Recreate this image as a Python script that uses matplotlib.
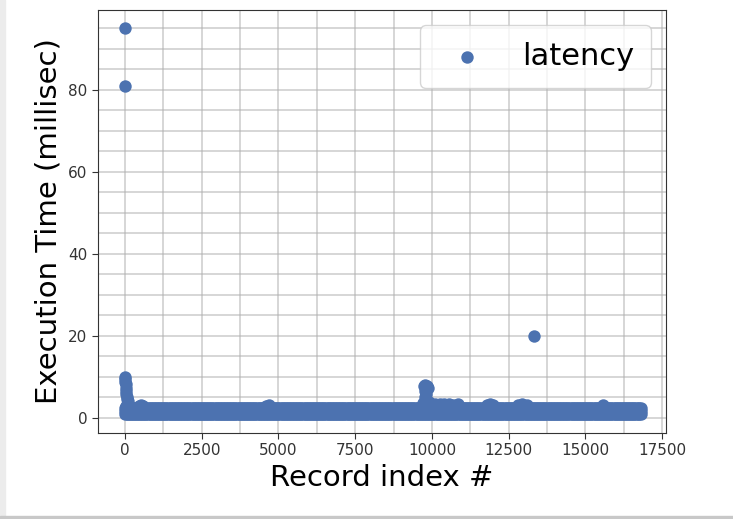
import matplotlib
matplotlib.use("Agg")
import matplotlib.pyplot as plt
from matplotlib.ticker import MultipleLocator
from matplotlib.patches import Rectangle
import numpy as np

# Record indices sampled along the dense base band, and the latency levels it covers
band_idx = np.arange(0, 16801, 50)
band_levels = [0.9, 1.6, 2.3]

# Start-up burst around record 0
head_x = [0, 0, 0, 10, 15, 20, 25, 30, 40, 50, 70, 90, 110, 20, 60]
head_y = [95.0, 81.0, 10.0, 9.4, 8.8, 8.2, 7.4, 6.6, 5.8, 5.2, 4.6, 4.0, 3.4, 3.0, 2.8]

# Burst around record 9800
mid_x = [9750, 9790, 9830, 9860, 9770, 9810, 9760, 9800, 9720, 9700, 9900, 9980]
mid_y = [7.8, 8.0, 7.8, 7.4, 6.6, 5.8, 5.0, 4.2, 3.6, 3.0, 3.8, 3.4]

# Small bumps above the band
bump_x = [460, 520, 580, 4600, 4680, 10100, 10250, 10400, 10550, 10700, 10850,
          11800, 11900, 12000, 12800, 12950, 13100, 15580]
bump_y = [3.0, 3.1, 3.0, 3.0, 3.1, 3.4, 3.3, 3.3, 3.3, 3.2, 3.3,
          3.2, 3.3, 3.2, 3.2, 3.3, 3.2, 3.2]

# Lone outlier
out_x = [13330]
out_y = [20.0]

record_idx = np.concatenate([np.tile(band_idx, len(band_levels)), head_x, mid_x, bump_x, out_x])
latency = np.concatenate([np.repeat(band_levels, len(band_idx)), head_y, mid_y, bump_y, out_y])

fig = plt.figure(figsize=(7.33, 5.19), dpi=100)
ax = fig.add_axes([0.1337, 0.1657, 0.775, 0.815])

ax.scatter(record_idx, latency, s=80, color="#4c72b0", label="latency", zorder=3, linewidths=0)

ax.set_xlim(-880, 17630)
ax.set_ylim(-3.7, 99.5)
ax.xaxis.set_major_locator(MultipleLocator(2500))
ax.xaxis.set_minor_locator(MultipleLocator(1250))
ax.yaxis.set_major_locator(MultipleLocator(20))
ax.yaxis.set_minor_locator(MultipleLocator(5))
ax.grid(which="both", color="#b0b0b0", alpha=0.6, linewidth=1.2, zorder=0)
ax.set_axisbelow(True)
ax.tick_params(which="minor", length=0)
ax.tick_params(which="major", labelsize=11, colors="#333333", length=4)
for sp in ax.spines.values():
    sp.set_color("#333333")

ax.set_xlabel("Record index #", fontsize=21)
ax.set_ylabel("Execution Time (millisec)", fontsize=21)
ax.legend(loc="upper right", fontsize=22, borderpad=0.55)

# screenshot frame edges
fig.patches.append(Rectangle((0, 0), 5 / 733, 1, transform=fig.transFigure,
                             color="#ececec", zorder=0))
fig.patches.append(Rectangle((0, 0), 1, 3 / 519, transform=fig.transFigure,
                             color="#c8c8c8", zorder=0))

fig.savefig("out.png", dpi=100)
